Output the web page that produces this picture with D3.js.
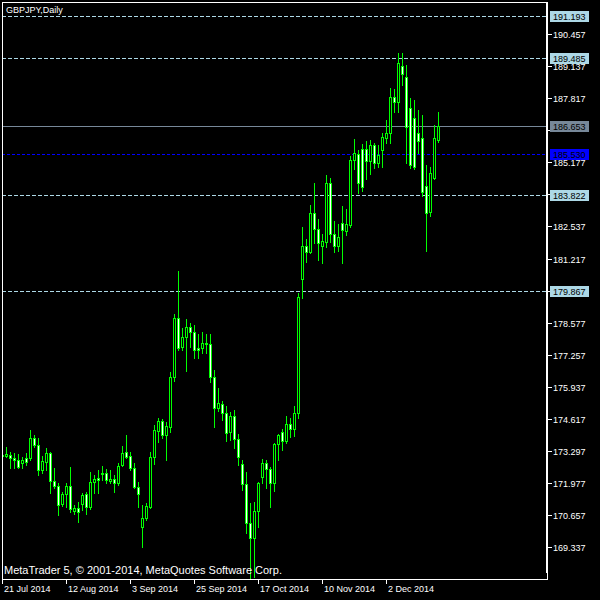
<!DOCTYPE html>
<html><head><meta charset="utf-8">
<script src="https://cdn.jsdelivr.net/npm/d3@7"></script>
<style>html,body{margin:0;padding:0;background:#000;} svg{display:block;}</style>
</head><body><svg id="c" width="600" height="600"></svg>
<script>
const symbolTitle = "GBPJPY,Daily";
const copyright = "MetaTrader 5, \u00A9 2001-2014, MetaQuotes Software Corp.";

const opens = [
173.13,173.09,173.13,173.01,172.93,172.81,173.01,172.99,173.83,173.54,
172.52,172.85,173.22,172.06,171.86,171.12,171.53,171.86,170.83,170.95,
171.12,171.53,170.99,172.02,172.19,172.35,172.39,172.06,172.15,171.98,
172.72,173.26,173.09,172.60,171.82,170.17,170.54,170.99,173.05,174.12,
174.53,173.96,174.29,176.34,178.77,177.58,177.99,178.40,178.19,177.54,
177.54,177.74,177.70,176.34,175.07,175.23,174.86,174.08,174.74,173.79,
172.76,171.94,170.34,169.72,170.83,172.23,172.81,172.56,171.98,173.59,
174.08,173.71,174.41,174.20,174.86,180.37,181.73,181.48,183.09,182.43,
181.73,181.89,184.32,182.22,181.73,182.68,182.35,182.59,185.27,185.52,
185.72,185.72,185.23,185.89,185.14,185.68,186.17,186.38,187.86,187.65,
189.14,188.68,187.41,187.00,186.38,186.17,184.20,183.13,184.53,186.09];
const highs = [
173.26,173.46,173.26,173.22,173.17,173.05,173.22,174.16,173.96,173.83,
173.09,173.42,173.26,172.60,171.98,171.61,171.98,172.64,171.08,171.20,
171.57,171.61,172.43,172.31,172.52,172.68,172.56,172.52,172.31,172.81,
173.50,173.96,173.26,172.81,172.02,171.08,171.16,173.26,174.37,174.66,
174.61,174.49,176.55,178.93,180.70,178.36,178.73,178.56,178.48,178.11,
178.19,178.11,178.11,176.63,175.89,175.35,175.15,174.90,174.99,174.00,
172.93,172.43,171.16,171.20,172.02,172.97,172.93,172.64,173.63,174.00,
174.20,174.74,174.66,175.15,179.80,182.51,182.02,183.42,184.32,182.84,
182.22,184.65,184.53,182.76,182.64,183.38,183.25,185.43,186.13,185.68,
185.93,186.05,186.09,185.97,185.89,186.38,186.92,188.23,188.19,189.67,
189.67,189.18,187.82,187.74,187.33,187.12,185.06,184.98,186.71,187.24];
const lows = [
173.01,173.05,172.60,172.60,172.60,172.60,172.72,172.93,173.46,172.31,
172.39,172.52,171.57,171.78,170.67,171.04,170.99,170.79,170.71,170.38,
170.87,170.71,170.91,171.57,171.57,172.11,171.98,171.98,171.61,171.90,
172.68,173.01,172.52,171.78,170.99,169.35,170.46,170.95,172.76,173.67,
173.83,172.93,174.08,176.18,177.45,177.45,176.59,177.58,177.12,177.12,
177.33,177.33,176.14,174.28,174.94,174.57,173.71,173.75,173.42,172.72,
171.69,169.92,167.58,168.11,170.17,171.98,171.78,170.99,171.65,172.93,
173.34,173.63,173.87,173.92,174.66,179.59,181.07,181.44,181.85,181.16,
181.03,181.69,181.89,181.48,181.52,181.03,182.18,182.51,184.90,183.91,
183.99,184.49,184.69,184.94,184.98,184.98,185.97,185.97,187.24,187.24,
188.35,185.14,184.94,184.90,185.56,183.79,181.52,182.96,184.49,186.01];
const closes = [
173.09,173.17,173.01,172.93,172.64,172.93,172.85,173.83,173.54,172.52,
172.89,173.22,172.06,171.86,171.08,171.53,171.86,170.91,170.95,170.79,
171.49,170.99,172.02,172.15,172.11,172.39,172.11,172.15,171.98,172.68,
173.22,173.05,172.60,171.82,171.53,170.54,171.04,173.05,174.16,174.53,
173.96,174.33,176.34,178.77,177.54,177.99,178.40,178.19,177.45,177.45,
177.74,177.70,176.34,175.07,175.27,174.86,174.04,174.74,173.79,173.05,
171.94,170.34,169.72,170.83,171.98,172.81,172.56,171.98,173.59,173.96,
173.71,174.41,174.20,174.86,179.63,181.73,181.48,183.09,182.43,181.85,
181.94,184.32,182.22,181.73,182.10,182.39,182.64,185.27,185.56,184.32,
184.16,185.23,185.89,185.14,185.48,186.21,186.38,187.86,187.65,189.26,
188.81,186.63,185.06,184.98,186.05,183.95,183.09,184.73,186.17,186.653];

const dateTickIndex = [0, 16, 32, 48, 64, 80, 96];
const dateTickLabels = ["21 Jul 2014","12 Aug 2014","3 Sep 2014","25 Sep 2014","17 Oct 2014","10 Nov 2014","2 Dec 2014"];
const priceTicks = [169.337,170.657,171.977,173.297,174.617,175.937,177.257,178.577,179.897,181.217,182.537,183.857,185.177,186.497,187.817,189.137,190.457];
const levelLines = [191.193, 189.485, 183.822, 179.867];
const bidPrice = 186.653;
const bluePrice = 185.530;

const FONT = "'Liberation Sans', Arial, sans-serif";
const svg = d3.select("#c");
svg.append("rect").attr("width",600).attr("height",600).attr("fill","#000");

const x = d3.scaleLinear().domain([0, opens.length - 1]).range([2, 2 + 4*(opens.length - 1)]);
const y = d3.scaleLinear().domain([169.337, 191.193]).range([547.3, 16]);
const ry = v => Math.round(y(v));

svg.append("clipPath").attr("id","plot").append("rect").attr("x",3).attr("y",3).attr("width",544).attr("height",576);
const plot = svg.append("g").attr("clip-path","url(#plot)");

// horizontal level lines
plot.selectAll("line.lvl").data(levelLines).join("line")
  .attr("x1",2).attr("x2",547).attr("y1",d=>ry(d)+0.5).attr("y2",d=>ry(d)+0.5)
  .attr("stroke","#add8e6").attr("stroke-dasharray","4,2");
plot.append("line").attr("x1",2).attr("x2",547).attr("y1",ry(bluePrice)+0.5).attr("y2",ry(bluePrice)+0.5)
  .attr("stroke","#0000ff").attr("stroke-dasharray","3,2");
plot.append("line").attr("x1",2).attr("x2",547).attr("y1",ry(bidPrice)+0.5).attr("y2",ry(bidPrice)+0.5)
  .attr("stroke","#778899");

// candles
const idx = d3.range(opens.length);
const g = plot.append("g");
idx.forEach(i => {
  const c = Math.round(x(i));
  const o = opens[i], h = highs[i], l = lows[i], cl = closes[i];
  g.append("line").attr("x1",c+0.5).attr("x2",c+0.5)
    .attr("y1",ry(h)).attr("y2",ry(l)+1).attr("stroke","#00ff00");
  const top = ry(Math.max(o,cl)), bot = ry(Math.min(o,cl));
  const fill = cl >= o ? "#000000" : "#ffffff";
  if (bot - top < 1) {
    g.append("line").attr("x1",c-1).attr("x2",c+2).attr("y1",top+0.5).attr("y2",top+0.5).attr("stroke","#00ff00");
  } else {
    g.append("rect").attr("x",c-0.5).attr("y",top+0.5).attr("width",2).attr("height",bot-top)
      .attr("fill",fill).attr("stroke","#00ff00");
  }
});

// frame
svg.append("line").attr("x1",2).attr("x2",548).attr("y1",2.5).attr("y2",2.5).attr("stroke","#fff");
svg.append("line").attr("x1",2.5).attr("x2",2.5).attr("y1",2).attr("y2",580).attr("stroke","#fff");
svg.append("line").attr("x1",2).attr("x2",548).attr("y1",579.5).attr("y2",579.5).attr("stroke","#fff");
svg.append("line").attr("x1",547.5).attr("x2",547.5).attr("y1",2).attr("y2",580).attr("stroke","#fff");
svg.append("line").attr("x1",546.5).attr("x2",546.5).attr("y1",2).attr("y2",573).attr("stroke","#fff");

// price axis (labels hidden under a price box are skipped, as in the terminal)
const boxPrices = levelLines.concat([bidPrice, bluePrice]);
const yAxisG = svg.append("g");
priceTicks.forEach(p => {
  const yy = ry(p);
  yAxisG.append("line").attr("x1",548).attr("x2",552).attr("y1",yy+0.5).attr("y2",yy+0.5).attr("stroke","#fff");
  const covered = boxPrices.some(b => Math.abs(ry(b) - yy) < 6);
  if (!covered) {
    yAxisG.append("text").attr("x",553).attr("y",yy+4).attr("fill","#fff")
      .attr("font-family",FONT).attr("font-size","9px").text(p.toFixed(3));
  }
});
function priceBox(p, bg) {
  const yy = ry(p);
  yAxisG.append("rect").attr("x",550).attr("y",yy-5).attr("width",39).attr("height",11).attr("fill",bg);
  yAxisG.append("text").attr("x",553).attr("y",yy+4).attr("fill","#000")
    .attr("font-family",FONT).attr("font-size","9px").text(p.toFixed(3));
}
levelLines.forEach(p => priceBox(p, "#add8e6"));
priceBox(bidPrice, "#778899");
priceBox(bluePrice, "#0000ff");

// date axis
const xAxisG = svg.append("g");
dateTickIndex.forEach((ti, k) => {
  const c = Math.round(x(ti));
  xAxisG.append("line").attr("x1",c+0.5).attr("x2",c+0.5).attr("y1",579).attr("y2",584).attr("stroke","#fff");
  xAxisG.append("text").attr("x",c+2).attr("y",592).attr("fill","#fff")
    .attr("font-family",FONT).attr("font-size","9px").text(dateTickLabels[k]);
});

// texts
svg.append("text").attr("x",6).attr("y",13).attr("fill","#fff").attr("font-family",FONT)
  .attr("font-size","9px").text(symbolTitle);
svg.append("text").attr("x",4).attr("y",574).attr("fill","#fff").attr("font-family",FONT)
  .attr("font-size","11px").text(copyright);
</script></body></html>
